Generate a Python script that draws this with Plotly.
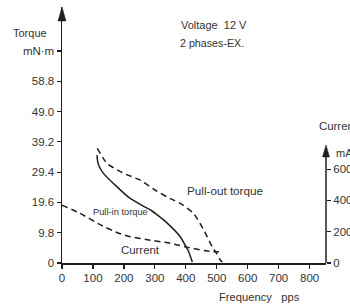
import plotly.graph_objects as go

# ---- data ----
pullout_f = [114, 145, 199, 253, 307, 350, 382, 425, 458, 485, 500, 512, 518]
pullout_T = [37.1, 32.2, 29.0, 26.8, 23.2, 20.8, 19.3, 16.1, 10.7, 5.3, 3.0, 0.9, 0.3]

pullin_f = [113, 115, 120, 134, 177, 220, 263, 290, 315, 340, 382, 409, 421]
pullin_T = [34.9, 33.0, 31.3, 29.0, 24.7, 20.9, 18.4, 16.9, 15.0, 12.9, 8.5, 3.7, 0.3]

current_f = [0, 58, 123, 183, 221, 285, 350, 415, 460, 490, 507]
current_mA = [370, 318, 245, 190, 168, 146, 126, 96, 80, 72, 72]

x_ticks = [0, 100, 200, 300, 400, 500, 600, 700, 800]
y_ticks = [0, 9.8, 19.6, 29.4, 39.2, 49.0, 58.8, 68.6]
y_ticktext = ["0", "9.8", "19.6", "29.4", "39.2", "49.0", "58.8", "mN\u00b7m"]
y2_ticks = [0, 200, 400, 600]

FONT = "Liberation Sans, Arial, Helvetica, sans-serif"
TXT = "#333333"
LINE = "#1e1e1e"

W, H = 350, 304
L, R, T, B = 62, 24, 7, 41
PW, PH = W - L - R, H - T - B
X_MAX = 853
Y_MAX = 82.8
Y2_MAX = 1636


def pp(xp, yp):
    return (xp - L) / PW, (H - B - yp) / PH


fig = go.Figure()
fig.add_trace(go.Scatter(x=pullout_f, y=pullout_T, mode="lines", line=dict(color=LINE, width=1.5, dash="6px,4px", shape="spline", smoothing=0.4), yaxis="y", hoverinfo="skip"))
fig.add_trace(go.Scatter(x=pullin_f, y=pullin_T, mode="lines", line=dict(color=LINE, width=1.5, shape="spline", smoothing=0.4), yaxis="y", hoverinfo="skip"))
fig.add_trace(go.Scatter(x=current_f, y=current_mA, mode="lines", line=dict(color=LINE, width=1.5, dash="6px,4px", shape="spline", smoothing=0.4), yaxis="y2", hoverinfo="skip"))

axis_common = dict(showgrid=False, zeroline=False, ticks="outside", ticklen=4, tickwidth=1.2,
                   tickcolor=LINE, tickfont=dict(family=FONT, size=11.5, color=TXT), automargin=False)

fig.update_layout(
    width=W, height=H,
    margin=dict(l=L, r=R, t=T, b=B, pad=0),
    paper_bgcolor="white", plot_bgcolor="white",
    showlegend=False,
    font=dict(family=FONT, color=TXT),
    xaxis=dict(range=[0, X_MAX], tickvals=x_ticks, showline=True, linecolor=LINE, linewidth=1.5, **axis_common),
    yaxis=dict(range=[0, Y_MAX], tickvals=y_ticks, ticktext=y_ticktext, showline=True, linecolor=LINE, linewidth=1.5, **axis_common),
    yaxis2=dict(range=[0, Y2_MAX], tickvals=y2_ticks, overlaying="y", side="right", anchor="x", showline=False, **axis_common),
)

# axis arrows and right axis line
top_right_mA = 754
fig.add_shape(type="line", xref="paper", yref="paper", x0=1, x1=1, y0=0, y1=top_right_mA / Y2_MAX - 10 / PH,
              line=dict(color=LINE, width=1.5))
fig.add_shape(type="path", xref="paper", yref="paper", xsizemode="pixel", ysizemode="pixel",
              xanchor=0, yanchor=1, path="M -4,-14 L 0,0 L 4,-14 Z", fillcolor=LINE, line=dict(color=LINE, width=0.5))
fig.add_shape(type="path", xref="paper", yref="paper", xsizemode="pixel", ysizemode="pixel",
              xanchor=1, yanchor=top_right_mA / Y2_MAX, path="M -3.5,-12 L 0,0 L 3.5,-12 Z", fillcolor=LINE, line=dict(color=LINE, width=0.5))


def label(text, xp, yp, size=11.5, anchor="left"):
    x, y = pp(xp, yp)
    fig.add_annotation(text=text, x=x, y=y, xref="paper", yref="paper", xanchor=anchor, yanchor="middle",
                       showarrow=False, font=dict(family=FONT, size=size, color=TXT))


label("Torque", 11, 33, 11)
label("Voltage\u00a0\u00a012 V", 179, 25, 11)
label("2 phases-EX.", 178, 43, 10.7)
label("Pull-out torque", 185, 190, 11.7)
label("Pull-in torque", 91, 212, 9.3)
label("Current", 119, 250, 11.4)
label("Current", 317, 126, 11.4)
label("mA", 334, 153, 11)
label("Frequency\u00a0\u00a0\u00a0pps", 217, 297, 11.2)

fig.write_html("out.html", config={"displayModeBar": False, "staticPlot": True},
               post_script="document.body.style.margin='0px';document.body.style.overflow='hidden';")
